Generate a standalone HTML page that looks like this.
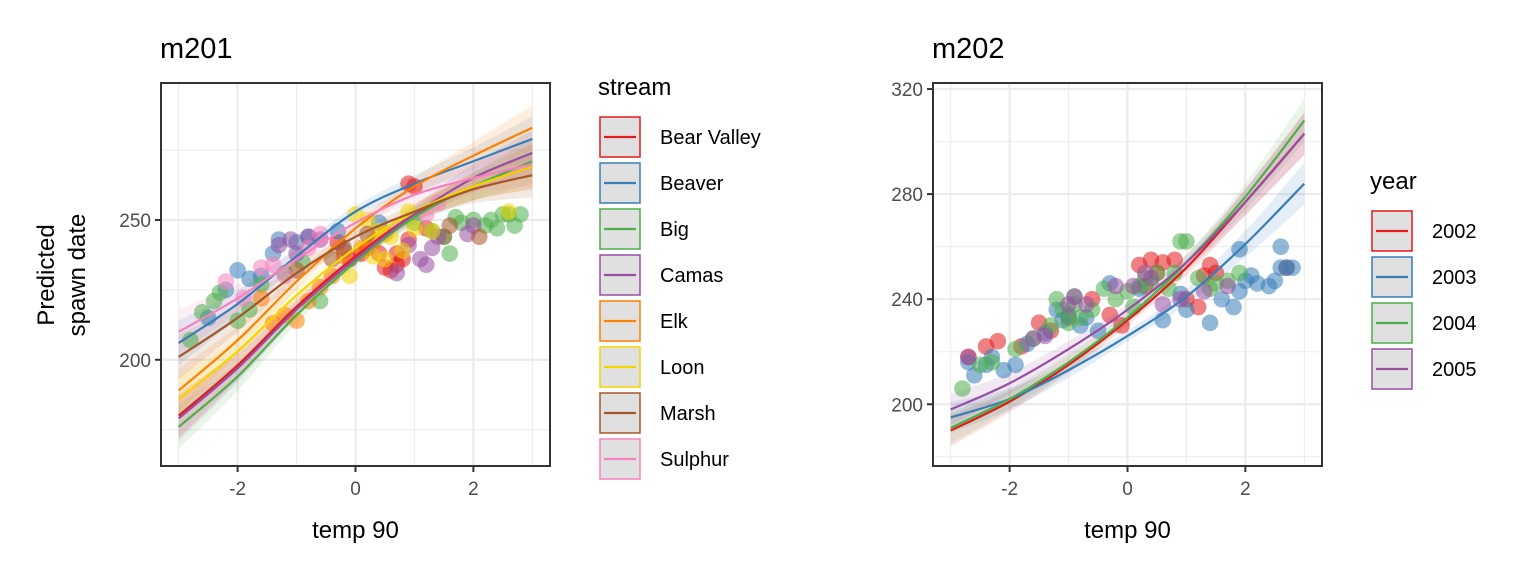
<!DOCTYPE html>
<html><head><meta charset="utf-8"><style>
body{margin:0;background:#fff;}
svg text{font-family:"Liberation Sans",Arial,sans-serif;}
</style></head><body>
<svg id="c" width="1536" height="576" xmlns="http://www.w3.org/2000/svg"></svg>
<script>
// ---- data: left panel (m201, by stream) ----
const streams = ["Bear Valley","Beaver","Big","Camas","Elk","Loon","Marsh","Sulphur"];
const streamColors = ["#E41A1C","#377EB8","#4DAF4A","#984EA3","#FF7F00","#F2D600","#A65628","#F781BF"];
const lineX = [-3,-2,-1,0,1,2,3];
const streamFit = [
 [180,198,219,237,252,262,269],
 [206,220,237,253,263,271,279],
 [176,194,216,235,251,262,271],
 [179,197,218,236,252,265,274],
 [189,207,228,247,262,273,283],
 [186,203,223,240,253,262,269],
 [201,215,231,244,253,261,266],
 [210,222,236,249,259,265,270]
];
const leftSE = [8,5,3,2,3,5,8];
const streamPts = [
 [[0.2,240],[0.4,238],[0.5,233],[0.6,232],[0.7,234],[0.8,236],[0.9,243],[1.0,262],[0.9,263],[-0.3,242],[-0.1,236],[0.1,238],[1.2,247],[1.5,244],[0.7,238]],
 [[-1.6,230],[-1.4,238],[-1.3,243],[-1.0,242],[-0.8,244],[-2.2,225],[-2.0,232],[-1.8,229],[-2.5,215],[-0.3,246],[0.4,249]],
 [[-2.6,217],[-2.4,221],[-2.3,224],[-2.0,214],[-1.8,218],[-1.6,227],[-1.2,231],[-0.9,235],[-0.6,221],[1.3,246],[1.5,244],[1.6,238],[1.8,249],[2.0,250],[2.2,248],[2.3,250],[2.4,247],[2.6,252],[2.8,252],[1.0,249],[2.5,252],[2.7,248],[-2.8,207],[1.7,251]],
 [[-1.3,241],[-1.1,243],[-0.8,244],[-0.6,243],[-1.0,238],[0.9,241],[1.1,236],[1.3,240],[0.7,231],[1.4,244],[2.0,248],[1.9,245],[-0.2,239],[1.2,234]],
 [[-1.6,222],[-1.2,216],[-1.0,214],[-0.8,221],[-0.6,226],[-0.4,230],[-0.2,237],[0.1,240],[0.3,242],[-1.4,213],[0.5,245]],
 [[0.0,252],[0.2,250],[0.4,246],[0.6,244],[0.8,239],[1.0,247],[0.5,236],[0.3,237],[-0.1,230],[2.6,253],[0.9,253],[1.3,246]],
 [[-0.4,236],[-0.2,240],[0.2,245],[1.6,248],[2.1,244],[-1.0,232]],
 [[-2.2,228],[-1.9,222],[-1.6,233],[-1.4,234],[-0.8,240],[-0.6,245],[1.2,252],[1.4,256],[-1.2,230]]
];
const leftXTicks = [-2,0,2];
const leftYTicks = [200,250];
// ---- data: right panel (m202, by year) ----
const years = ["2002","2003","2004","2005"];
const yearColors = ["#E41A1C","#377EB8","#4DAF4A","#984EA3"];
const yearFit = [
 [190,201,215,232,252,277,303],
 [195,202,213,226,241,261,284],
 [191,202,216,233,254,279,308],
 [198,208,221,236,254,277,303]
];
const rightSE = [6,4,3,2,3,5,8];
const yearPts = [
 [[-2.7,218],[-2.4,222],[-2.2,224],[-1.8,222],[-1.3,228],[-1.0,233],[-0.6,240],[-0.3,234],[0.2,253],[0.4,255],[0.6,254],[0.8,255],[1.0,240],[1.2,237],[1.5,250],[2.7,252],[0.3,245],[-0.1,230],[1.4,253],[-1.5,231],[0.5,250],[1.3,249]],
 [[-2.7,216],[-2.6,211],[-2.4,215],[-2.1,213],[-1.9,215],[-1.7,223],[-1.4,227],[-1.1,232],[-0.8,230],[-0.5,228],[-0.3,246],[0.2,244],[0.6,232],[1.0,236],[1.4,231],[1.6,240],[1.9,243],[2.0,247],[2.2,246],[2.4,245],[2.6,252],[2.8,252],[1.9,259],[2.6,260],[2.5,247],[1.8,237],[2.1,249],[-1.2,236],[-1.0,234],[-0.7,233],[0.9,242],[2.7,252],[-2.3,218]],
 [[-2.8,206],[-2.5,215],[-2.3,216],[-1.9,221],[-1.6,225],[-1.3,230],[-1.1,236],[-0.9,238],[-0.6,236],[-0.2,240],[0.0,243],[0.3,248],[0.5,250],[0.7,244],[0.9,262],[1.0,262],[1.2,248],[1.5,246],[1.7,247],[1.9,250],[-1.0,231],[-0.4,244],[0.4,246],[0.1,237],[-0.8,233],[-1.2,240],[-0.9,241],[0.2,245],[0.8,250],[1.4,244]],
 [[-2.7,218],[-1.6,225],[-1.0,238],[-0.7,238],[-0.2,245],[0.1,245],[0.4,248],[0.9,240],[1.3,243],[1.7,245],[-1.4,226],[0.6,238],[-0.9,241],[0.3,250]]
];
const rightXTicks = [-2,0,2];
const rightYTicks = [200,240,280,320];

const NS="http://www.w3.org/2000/svg";
const svg=document.getElementById('c');
function mk(tag,attrs,parent){const e=document.createElementNS(NS,tag);for(const k in attrs)e.setAttribute(k,attrs[k]);(parent||svg).appendChild(e);return e;}
function txt(s,attrs,parent){const e=mk('text',attrs,parent);e.textContent=s;return e;}
function smooth(pts){let d='M'+pts[0][0]+','+pts[0][1];for(let i=0;i<pts.length-1;i++){const p0=pts[Math.max(0,i-1)],p1=pts[i],p2=pts[i+1],p3=pts[Math.min(pts.length-1,i+2)];d+=' C'+(p1[0]+(p2[0]-p0[0])/6)+','+(p1[1]+(p2[1]-p0[1])/6)+' '+(p2[0]-(p3[0]-p1[0])/6)+','+(p2[1]-(p3[1]-p1[1])/6)+' '+p2[0]+','+p2[1];}return d;}
function smoothCont(pts){return smooth(pts).replace(/^M/,'L');}

function panel(o){
  const g=mk('g',{});
  
  
  const X=v=>o.x0+(v-o.xmin)/(o.xmax-o.xmin)*(o.x1-o.x0);
  const Y=v=>o.y1-(v-o.ymin)/(o.ymax-o.ymin)*(o.y1-o.y0);
  const clip='clip-'+o.name; const cp=mk('clipPath',{id:clip},g); mk('rect',{x:o.x0,y:o.y0,width:o.x1-o.x0,height:o.y1-o.y0},cp);
  for(const m of o.xMinor){const l=mk('line',{x1:X(m),x2:X(m),y1:o.y0,y2:o.y1,stroke:'#ebebeb','stroke-width':1},g);}
  for(const m of o.yMinor){const l=mk('line',{x1:o.x0,x2:o.x1,y1:Y(m),y2:Y(m),stroke:'#ebebeb','stroke-width':1},g);}
  for(const t of o.xTicks){const l=mk('line',{x1:X(t),x2:X(t),y1:o.y0,y2:o.y1,stroke:'#ebebeb','stroke-width':2.2},g);}
  for(const t of o.yTicks){const l=mk('line',{x1:o.x0,x2:o.x1,y1:Y(t),y2:Y(t),stroke:'#ebebeb','stroke-width':2.2},g);}
  const pg=mk('g',{'clip-path':'url(#'+clip+')'},g);
  o.fits.forEach((f,i)=>{
    const up=lineX.map((x,j)=>[X(x),Y(f[j]+o.se[j])]);
    const lo=lineX.map((x,j)=>[X(x),Y(f[j]-o.se[j])]).reverse();
    const r=mk('path',{d:smooth(up)+' '+smoothCont(lo)+' Z',fill:o.colors[i],'fill-opacity':0.13,stroke:'none'},pg);
    
    
  });
  o.pts.forEach((ps,i)=>{ps.forEach(p=>{
    const c=mk('circle',{cx:X(p[0]),cy:Y(p[1]),r:8.3,fill:o.colors[i],'fill-opacity':0.55},pg);
    
    
  });});
  o.fits.forEach((f,i)=>{
    const l=mk('path',{d:smooth(lineX.map((x,j)=>[X(x),Y(f[j])])),fill:'none',stroke:o.colors[i],'stroke-width':2.2},pg);
    
    
  });
  const b=mk('rect',{x:o.x0,y:o.y0,width:o.x1-o.x0,height:o.y1-o.y0,fill:'none',stroke:'#333','stroke-width':2},g);
  
  for(const t of o.xTicks){
    mk('line',{x1:X(t),x2:X(t),y1:o.y1,y2:o.y1+6,stroke:'#333','stroke-width':2},g);
    const e=txt(String(t),{x:X(t),y:o.y1+29,'text-anchor':'middle','font-size':19,fill:'#4d4d4d'},g);
    
  }
  for(const t of o.yTicks){
    mk('line',{x1:o.x0-6,x2:o.x0,y1:Y(t),y2:Y(t),stroke:'#333','stroke-width':2},g);
    const e=txt(String(t),{x:o.x0-10,y:Y(t)+7,'text-anchor':'end','font-size':19,fill:'#4d4d4d'},g);
    
  }
  const xt=txt('temp 90',{x:(o.x0+o.x1)/2,y:538,'text-anchor':'middle','font-size':24,fill:'#000'},g);
  
  const tt=txt(o.title,{x:o.x0-1,y:58,'font-size':29,fill:'#000'},g);
  
  const lg=mk('g',{},g);
  
  
  const lt=txt(o.legTitle,{x:o.lx-1,y:o.ly-21,'font-size':24,fill:'#000'},lg);
  
  o.labels.forEach((s,i)=>{
    const y=o.ly+i*46;
    const k=mk('g',{},lg);
    
    
    mk('rect',{x:o.lx+1,y:y+1,width:40,height:40,fill:'#e0e0e0',stroke:o.colors[i],'stroke-width':1.5},k);
    mk('line',{x1:o.lx+5,x2:o.lx+37,y1:y+21,y2:y+21,stroke:o.colors[i],'stroke-width':2.2},k);
    txt(s,{x:o.lx+61,y:y+28,'font-size':20,fill:'#000'},k);
  });
}
panel({name:'m201-panel',title:'m201',x0:161,x1:550,y0:83,y1:466,xmin:-3.3,xmax:3.3,ymin:162,ymax:299,
  xTicks:leftXTicks,yTicks:leftYTicks,xMinor:[-3,-1,1,3],yMinor:[175,225,275],
  fits:streamFit,se:leftSE,pts:streamPts,colors:streamColors,labels:streams,legTitle:'stream',lx:599,ly:116});
panel({name:'m202-panel',title:'m202',x0:933,x1:1322,y0:83,y1:466,xmin:-3.3,xmax:3.3,ymin:176.5,ymax:322.3,
  xTicks:rightXTicks,yTicks:rightYTicks,xMinor:[-3,-1,1,3],yMinor:[180,220,260,300],
  fits:yearFit,se:rightSE,pts:yearPts,colors:yearColors,labels:years,legTitle:'year',lx:1371,ly:210});
const yt=txt('',{'font-size':24,fill:'#000','text-anchor':'middle'});


const t1=mk('tspan',{x:0,y:0},yt);t1.textContent='Predicted';
const t2=mk('tspan',{x:0,y:31},yt);t2.textContent='spawn date';
yt.setAttribute('transform','translate(54,275) rotate(-90)');
</script>
</body></html>
